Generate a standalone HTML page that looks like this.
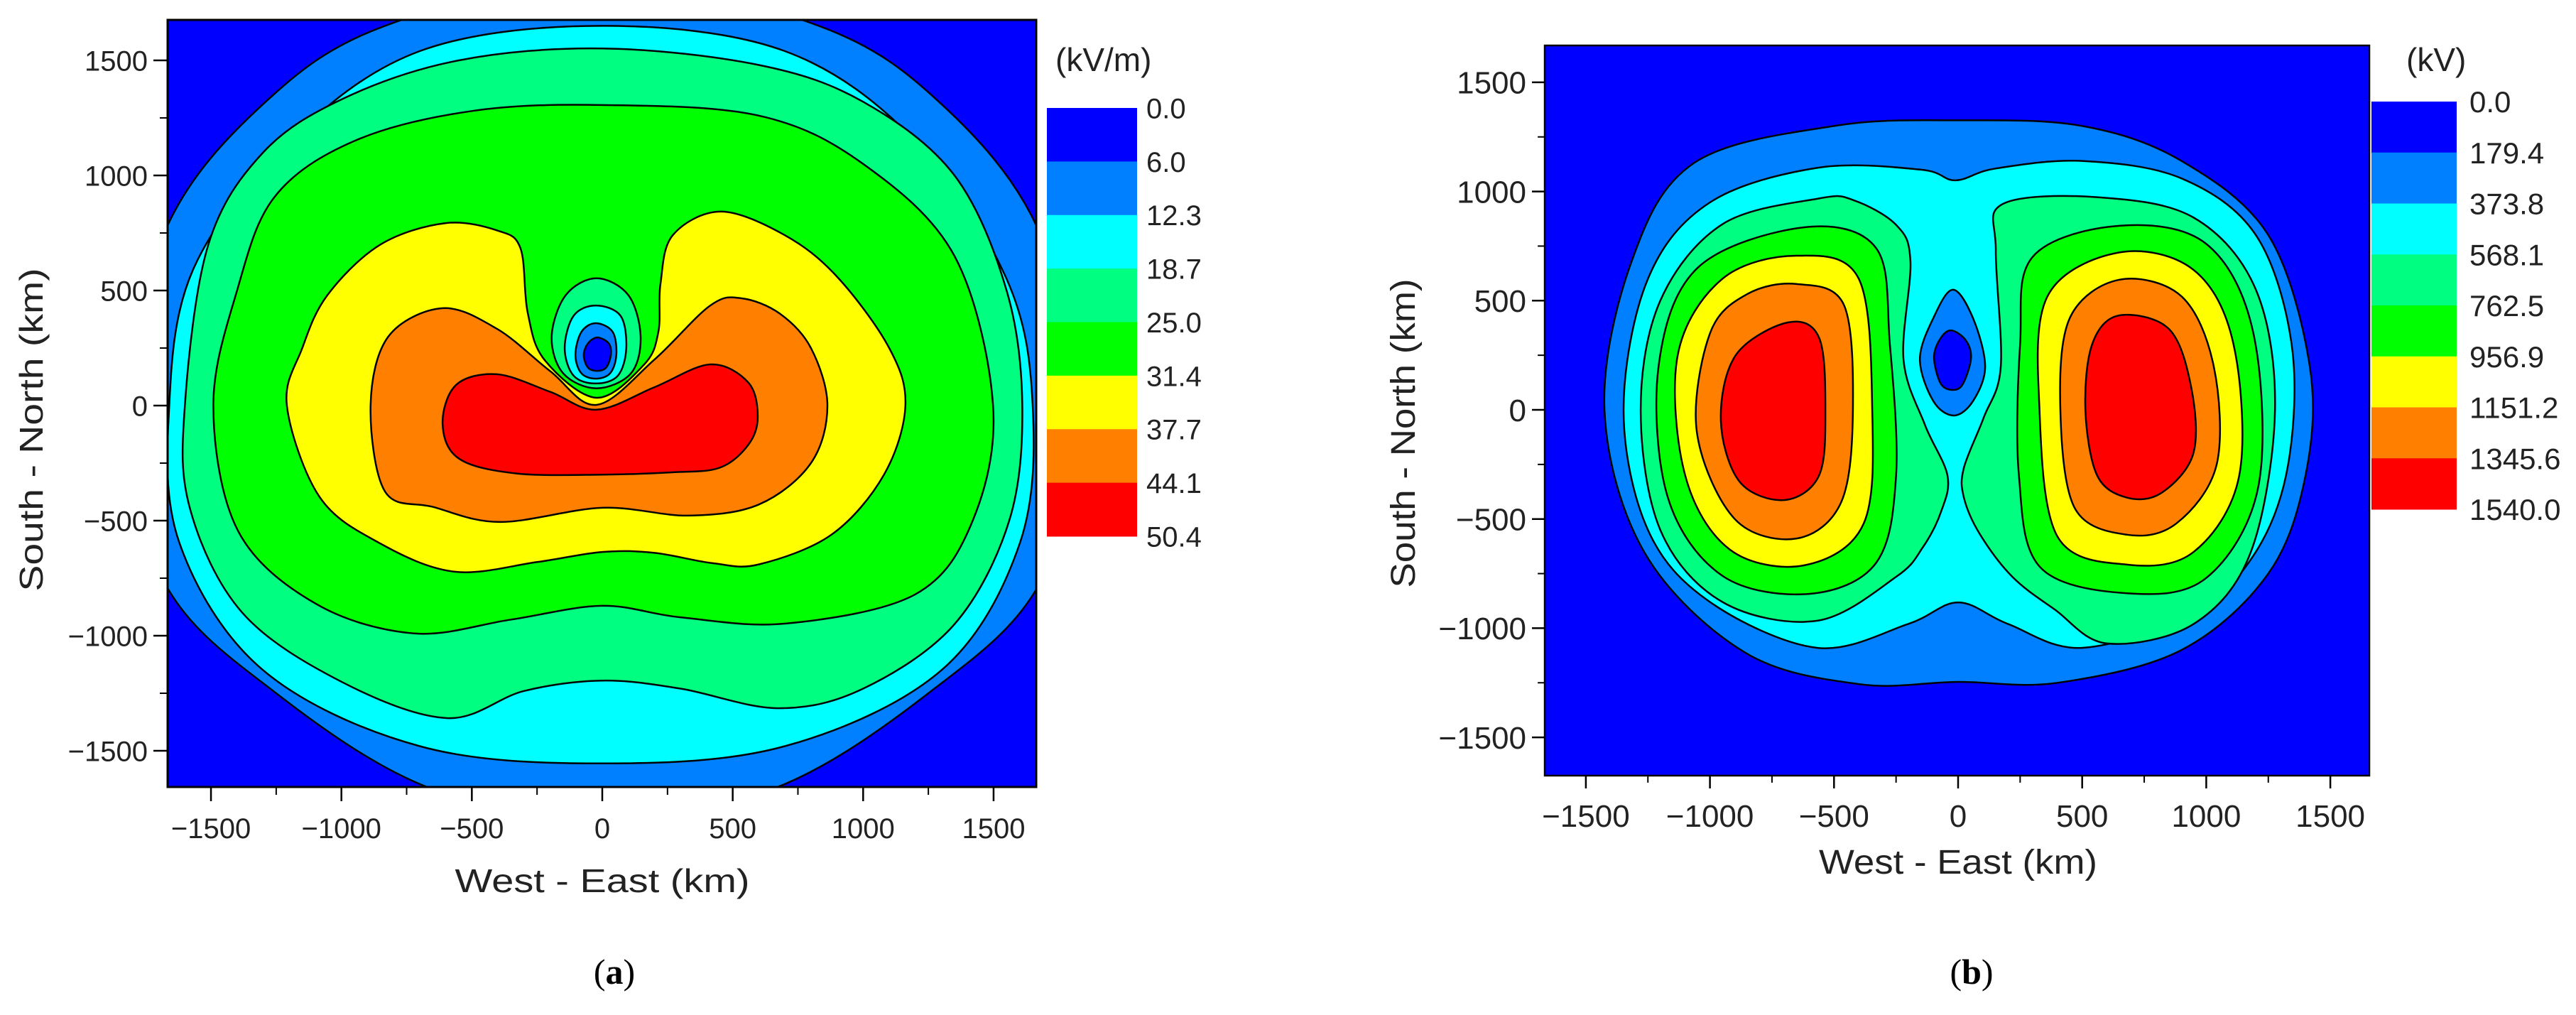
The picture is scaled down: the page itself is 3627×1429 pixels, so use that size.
<!DOCTYPE html>
<html><head><meta charset="utf-8"><style>
html,body{margin:0;padding:0;background:#fff;}
svg{display:block;font-family:"Liberation Sans",sans-serif;}
</style></head><body>
<svg id="root" width="3627" height="1429" viewBox="0 0 3627 1429" xmlns="http://www.w3.org/2000/svg">
<defs>
<clipPath id="clipA"><rect x="236" y="28" width="1223" height="1080"/></clipPath>
<clipPath id="clipB"><rect x="2175" y="64" width="1161" height="1028"/></clipPath>
</defs>
<g id="chartA"></g>
<g id="chartB"></g>
<text x="865" y="1385" font-family="Liberation Serif,serif" font-size="50" text-anchor="middle">(<tspan font-weight="bold">a</tspan>)</text>
<text x="2776" y="1385" font-family="Liberation Serif,serif" font-size="50" text-anchor="middle">(<tspan font-weight="bold">b</tspan>)</text>
</svg>
<script>
// ---------- data ----------
const colorsA = ["#0000ff","#0080ff","#00ffff","#00ff80","#00ff00","#ffff00","#ff8000","#ff0000"];
const levelLabelsA = ["0.0","6.0","12.3","18.7","25.0","31.4","37.7","44.1","50.4"];
const levelLabelsB = ["0.0","179.4","373.8","568.1","762.5","956.9","1151.2","1345.6","1540.0"];
const tickValues = [-1500,-1000,-500,0,500,1000,1500];
const minorTickValues = [-1250,-750,-250,250,750,1250];

// chart a contours (km)
const a_c1 = [[0,1852],[830,1650],[1300,1310],[1667,775],[1830,0],[1680,-765],[1250,-1250],[650,-1667],[0,-1770],[-650,-1667],[-1250,-1250],[-1680,-765],[-1830,0],[-1667,781],[-1300,1310],[-833,1650]];
const a_c2 = [[0,1650],[700,1540],[1200,1150],[1550,550],[1650,0],[1600,-600],[1300,-1150],[700,-1480],[0,-1555],[-700,-1480],[-1300,-1150],[-1620,-600],[-1660,0],[-1565,600],[-1200,1150],[-700,1540]];
const a_c3 = [[0,1552],[600,1480],[1000,1320],[1350,1000],[1550,500],[1610,0],[1560,-500],[1350,-950],[1000,-1230],[675,-1315],[300,-1230],[0,-1195],[-300,-1240],[-596,-1358],[-1000,-1200],[-1380,-900],[-1580,-450],[-1600,0],[-1510,700],[-1300,1100],[-989,1336],[-550,1500]];
const a_c4 = [[0,1306],[600,1260],[1000,1050],[1350,650],[1498,0],[1420,-500],[1200,-820],[707,-947],[300,-920],[0,-870],[-350,-930],[-722,-990],[-1100,-860],[-1397,-543],[-1491,0],[-1400,500],[-1256,907],[-950,1150],[-500,1280]];
const a_c5 = [[-22,34],[161,179],[215,321],[223,528],[270,740],[455,843],[700,740],[900,560],[1100,250],[1162,0],[1080,-300],[880,-560],[600,-690],[423,-685],[200,-640],[0,-636],[-250,-680],[-566,-722],[-850,-600],[-1083,-398],[-1209,0],[-1150,250],[-1053,481],[-850,700],[-600,793],[-400,760],[-313,682],[-286,404],[-221,198]];
const a_c6 = [[-22,3],[200,200],[414,435],[534,466],[680,400],[800,250],[863,0],[800,-250],[600,-430],[329,-478],[0,-444],[-392,-506],[-650,-440],[-833,-373],[-888,0],[-820,300],[-612,423],[-403,333],[-200,150]];
const a_c7 = [[-22,-18],[200,80],[414,179],[560,100],[596,-50],[560,-170],[450,-270],[267,-290],[0,-300],[-329,-295],[-549,-231],[-612,-80],[-560,90],[-403,136],[-200,60]];
const a_o1 = [[-22,553],[100,480],[147,300],[110,140],[-22,75],[-150,140],[-194,300],[-140,480]];
const a_o2 = [[-25,435],[70,390],[92,250],[60,130],[-25,96],[-110,130],[-144,250],[-110,390]];
const a_o3 = [[-25,358],[40,320],[54,220],[30,140],[-25,117],[-80,140],[-103,220],[-80,320]];
const a_o4 = [[-19,296],[25,270],[33,220],[15,165],[-19,151],[-55,165],[-71,220],[-55,270]];
const contoursA = [[1,a_c1],[2,a_c2],[3,a_c3],[4,a_c4],[5,a_c5],[6,a_c6],[7,a_c7],[3,a_o1],[2,a_o2],[1,a_o3],[0,a_o4]];

// chart b contours
const b_c1 = [[0,1326],[500,1300],[900,1140],[1250,800],[1417,200],[1400,-300],[1250,-750],[900,-1100],[400,-1250],[0,-1246],[-400,-1256],[-861,-1110],[-1263,-655],[-1425,0],[-1314,685],[-1062,1132],[-500,1300]];
const b_c2 = [[-11,1051],[150,1105],[500,1140],[900,1060],[1200,800],[1344,300],[1330,-250],[1200,-650],[950,-930],[500,-1090],[200,-980],[0,-882],[-200,-980],[-567,-1090],[-1000,-880],[-1250,-550],[-1348,0],[-1250,600],[-1000,950],[-564,1109],[-150,1100]];
const b_l3 = [[-560,968],[-421,960],[-249,846],[-192,680],[-220,231],[-134,-68],[-43,-300],[-68,-465],[-143,-631],[-249,-764],[-567,-966],[-950,-880],[-1200,-550],[-1279,0],[-1200,500],[-950,850]];
const b_l4 = [[-620,836],[-330,740],[-275,300],[-250,-300],[-330,-700],[-600,-843],[-950,-760],[-1170,-400],[-1207,200],[-1050,650]];
const b_l5 = [[-650,706],[-400,600],[-346,0],[-380,-520],[-620,-712],[-920,-640],[-1100,-300],[-1130,250],[-950,600]];
const b_l6 = [[-650,576],[-460,480],[-424,0],[-470,-420],[-650,-589],[-900,-500],[-1053,-100],[-1000,350],[-850,530]];
const b_l7 = [[-687,400],[-560,330],[-535,0],[-560,-300],[-700,-413],[-880,-330],[-956,-50],[-896,250]];
const b_r3 = [[560,974],[180,943],[152,729],[172,198],[103,-36],[23,-267],[23,-400],[86,-566],[218,-764],[389,-914],[600,-1070],[950,-980],[1180,-650],[1277,0],[1200,550],[950,880]];
const b_r4 = [[650,843],[1000,760],[1190,350],[1210,-350],[1000,-770],[680,-840],[330,-720],[245,-300],[250,300],[300,700]];
const b_r5 = [[650,721],[950,640],[1110,300],[1133,-300],[950,-650],[680,-709],[400,-580],[328,0],[360,520]];
const b_r6 = [[650,596],[900,520],[1030,200],[1042,-250],[880,-520],[680,-572],[470,-450],[412,0],[450,420]];
const b_r7 = [[647,432],[850,370],[940,100],[948,-200],[820,-380],[680,-402],[560,-300],[513,0],[540,300]];
const b_m1 = [[-21,550],[60,420],[109,198],[60,40],[-17,-26],[-100,40],[-154,231],[-100,420]];
const b_m0 = [[-30,364],[30,320],[52,237],[20,120],[-20,91],[-70,120],[-97,237],[-75,320]];
const contoursB = [[1,b_c1],[2,b_c2],[3,b_l3],[4,b_l4],[5,b_l5],[6,b_l6],[7,b_l7],[3,b_r3],[4,b_r4],[5,b_r5],[6,b_r6],[7,b_r7],[1,b_m1],[0,b_m0]];

// ---------- drawing ----------
const NS = "http://www.w3.org/2000/svg";
function mk(tag, attrs, parent){const e=document.createElementNS(NS,tag);for(const k in attrs)e.setAttribute(k,attrs[k]);parent.appendChild(e);return e;}
function smoothPath(pts, X, Y){
  const p = pts.map(q=>[X(q[0]),Y(q[1])]); const n=p.length;
  let d = "M"+p[0][0].toFixed(1)+","+p[0][1].toFixed(1);
  for(let i=0;i<n;i++){
    const p0=p[(i-1+n)%n],p1=p[i],p2=p[(i+1)%n],p3=p[(i+2)%n];
    const c1=[p1[0]+(p2[0]-p0[0])/6,p1[1]+(p2[1]-p0[1])/6];
    const c2=[p2[0]-(p3[0]-p1[0])/6,p2[1]-(p3[1]-p1[1])/6];
    d+="C"+c1[0].toFixed(1)+","+c1[1].toFixed(1)+" "+c2[0].toFixed(1)+","+c2[1].toFixed(1)+" "+p2[0].toFixed(1)+","+p2[1].toFixed(1);
  }
  return d+"Z";
}
function drawChart(cfg){
  const g = document.getElementById(cfg.id);
  const X = v=>cfg.cx+v*cfg.sx, Y = v=>cfg.cy-v*cfg.sy;
  const cg = mk("g",{"clip-path":"url(#"+cfg.clip+")"},g);
  
  
  const bg = mk("rect",{x:cfg.L,y:cfg.T,width:cfg.R-cfg.L,height:cfg.B-cfg.T,fill:colorsA[0]},cg);
  
  
  cfg.contours.forEach((c,i)=>{
    const p = mk("path",{d:smoothPath(c[1],X,Y),fill:colorsA[c[0]],stroke:"#000","stroke-width":2.5},cg);
    
    
  });
  const fr = mk("rect",{x:cfg.L,y:cfg.T,width:cfg.R-cfg.L,height:cfg.B-cfg.T,fill:"none",stroke:"#000","stroke-width":cfg.frameW},g);
  
  
  tickValues.forEach(v=>{
    const tx = mk("line",{x1:X(v),x2:X(v),y1:cfg.B,y2:cfg.B+cfg.tl,stroke:"#000","stroke-width":2.5},g);
    
    
    const lx = mk("text",{x:X(v),y:cfg.xlabY,"font-size":cfg.fs,"text-anchor":"middle",fill:"#222"},g);
    lx.textContent = v<0? "\u2212"+Math.abs(v) : String(v);
    
    
    const ty = mk("line",{x1:cfg.L-cfg.tl,x2:cfg.L,y1:Y(v),y2:Y(v),stroke:"#000","stroke-width":2.5},g);
    
    
    const ly = mk("text",{x:cfg.L-cfg.tl-8,y:Y(v)+cfg.fs*0.36,"font-size":cfg.fs,"text-anchor":"end",fill:"#222"},g);
    ly.textContent = v<0? "\u2212"+Math.abs(v) : String(v);
    
    
  });
  minorTickValues.forEach(v=>{
    const tx = mk("line",{x1:X(v),x2:X(v),y1:cfg.B,y2:cfg.B+cfg.tl*0.55,stroke:"#000","stroke-width":2},g);
    
    
    const ty = mk("line",{x1:cfg.L-cfg.tl*0.55,x2:cfg.L,y1:Y(v),y2:Y(v),stroke:"#000","stroke-width":2},g);
    
    
  });
  const xt = mk("text",{x:cfg.xtX,y:cfg.xtY,"font-size":cfg.tfs,"text-anchor":"middle",fill:"#222",textLength:cfg.xtLen,lengthAdjust:"spacingAndGlyphs"},g);
  xt.textContent = "West - East (km)";
  
  
  const yt = mk("text",{x:0,y:0,"font-size":cfg.tfs,"text-anchor":"middle",fill:"#222",textLength:cfg.ytLen,lengthAdjust:"spacingAndGlyphs",transform:"translate("+cfg.ytX+","+cfg.ytY+") rotate(-90)"},g);
  yt.textContent = "South - North (km)";
  
  
  const step = (cfg.cbB-cfg.cbT)/8;
  const cb = mk("g",{},g);
  
  
  colorsA.forEach((c,i)=>{
    const r = mk("rect",{x:cfg.cbL,y:cfg.cbT+i*step,width:cfg.cbW,height:step+0.5,fill:c},cb);
    
    
  });
  cfg.labels.forEach((s,i)=>{
    const t = mk("text",{x:cfg.cbLabX,y:cfg.cbT+i*step+cfg.cfs*0.36,"font-size":cfg.cfs,fill:"#222"},cb);
    t.textContent = s;
    
    
  });
  const u = mk("text",{x:cfg.unitX,y:cfg.unitY,"font-size":cfg.ufs,fill:"#222"},cb);
  u.textContent = cfg.unit;
  
  
}
drawChart({id:"chartA",clip:"clipA",cx:848,sx:0.3673,cy:571,sy:0.324,L:236,R:1459,T:28,B:1108,frameW:3,
  contours:contoursA,tl:20,fs:40,tfs:46,cfs:40,ufs:46,xlabY:1180,xtX:848,xtY:1256,xtLen:415,ytX:60,ytY:605,ytLen:455,
  cbL:1474,cbW:127,cbT:152,cbB:755,labels:levelLabelsA,cbLabX:1614,unit:"(kV/m)",unitX:1486,unitY:100});
drawChart({id:"chartB",clip:"clipB",cx:2757,sx:0.3494,cy:577,sy:0.3074,L:2175,R:3336,T:64,B:1092,frameW:2.5,
  contours:contoursB,tl:18,fs:44,tfs:48,cfs:42,ufs:46,xlabY:1164,xtX:2757,xtY:1230,xtLen:392,ytX:1992,ytY:610,ytLen:435,
  cbL:3339,cbW:120,cbT:143,cbB:717,labels:levelLabelsB,cbLabX:3477,unit:"(kV)",unitX:3388,unitY:100});
</script>
</body></html>
